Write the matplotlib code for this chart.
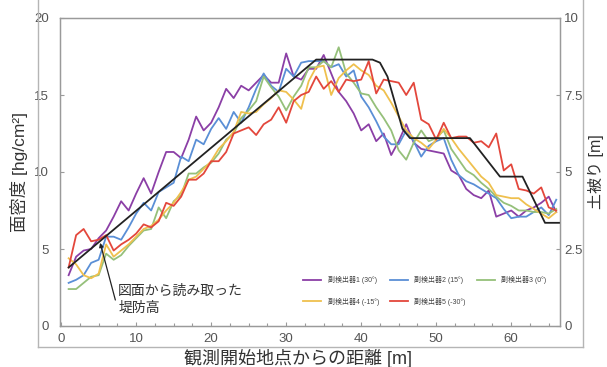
import matplotlib
matplotlib.use("Agg")
import matplotlib.pyplot as plt
from matplotlib.lines import Line2D
import numpy as np

plt.rcParams['font.family'] = ['Liberation Sans', 'Noto Sans CJK JP', 'DejaVu Sans']

# distance from observation start [m]
dist = list(range(1, 67))

det1_30 = [3.3, 4.5, 4.9, 5.0, 5.7, 6.2, 7.1, 8.1, 7.5, 8.6, 9.6, 8.6, 10.0, 11.3, 11.3, 10.9, 12.1,
           13.6, 12.7, 13.2, 14.2, 15.4, 14.8, 15.6, 15.3, 15.8, 16.3, 15.8, 15.8, 17.7, 16.2, 16.0,
           16.7, 16.7, 17.6, 16.4, 15.2, 14.6, 13.8, 12.7, 13.1, 12.0, 12.5, 11.1, 12.0, 13.1, 11.9,
           11.5, 11.4, 11.3, 11.2, 10.1, 9.8, 8.9, 8.5, 8.3, 8.8, 7.1, 7.3, 7.5, 7.1, 7.5, 7.7, 8.0,
           8.4, 7.4]
det2_15 = [2.8, 3.0, 3.3, 4.1, 4.3, 5.8, 5.8, 5.6, 6.4, 7.3, 8.0, 7.5, 8.7, 9.0, 9.3, 11.0, 10.7,
           12.1, 11.8, 12.8, 13.5, 12.8, 13.9, 13.2, 14.2, 15.4, 16.4, 15.6, 15.2, 16.7, 16.2, 17.1,
           17.2, 17.2, 17.2, 16.8, 17.0, 16.2, 16.6, 14.9, 14.2, 13.3, 12.3, 11.8, 11.8, 12.7, 12.0,
           11.0, 11.7, 12.0, 12.2, 10.8, 9.8, 9.4, 9.2, 8.9, 8.6, 8.3, 7.6, 7.0, 7.1, 7.1, 7.4, 7.7,
           7.2, 8.2]
det3_0 = [2.4, 2.4, 2.8, 3.2, 3.3, 4.7, 4.3, 4.6, 5.2, 5.7, 6.2, 6.3, 7.7, 7.0, 8.1, 8.5, 9.9,
          9.9, 10.3, 10.6, 11.2, 12.1, 12.5, 13.5, 14.0, 14.6, 16.2, 15.5, 14.9, 14.0, 14.9, 15.6,
          16.8, 16.8, 17.2, 16.8, 18.1, 16.4, 15.8, 15.1, 15.0, 14.2, 13.5, 12.7, 11.4, 10.8, 11.9,
          12.7, 12.0, 12.2, 12.7, 11.5, 10.8, 10.1, 9.8, 9.3, 8.9, 8.4, 8.0, 7.8, 7.5, 7.5, 7.4, 7.4,
          7.3, 7.6]
det4_m15 = [4.4, 4.0, 3.3, 3.1, 3.4, 5.3, 4.5, 4.9, 5.3, 5.8, 6.3, 6.5, 6.9, 7.5, 8.0, 8.7, 9.5,
            9.7, 10.2, 10.7, 11.5, 12.0, 12.6, 13.9, 13.8, 13.9, 14.4, 14.8, 15.3, 15.2, 14.7, 14.1,
            15.9, 16.8, 16.9, 15.0, 16.1, 16.6, 17.0, 16.6, 16.3, 15.6, 15.3, 14.5, 13.6, 12.7, 12.2,
            11.9, 11.5, 12.1, 12.8, 12.2, 11.5, 10.9, 10.3, 9.7, 9.3, 8.5, 8.4, 8.3, 8.3, 7.9, 7.6,
            7.3, 7.0, 7.4]
det5_m30 = [3.8, 5.9, 6.3, 5.5, 5.6, 5.9, 4.9, 5.3, 5.6, 6.0, 6.6, 6.4, 6.8, 8.0, 7.8, 8.4, 9.5,
            9.5, 9.9, 10.7, 10.7, 11.3, 12.5, 12.7, 12.9, 12.4, 13.1, 13.4, 14.2, 13.2, 14.6, 15.0,
            15.2, 16.2, 15.4, 15.9, 15.2, 16.0, 15.9, 16.0, 17.2, 15.1, 16.0, 15.9, 15.8, 15.0, 15.8,
            13.4, 13.1, 12.1, 13.2, 12.2, 12.3, 12.3, 11.9, 12.0, 11.6, 12.5, 10.1, 10.5, 8.9, 8.8,
            8.6, 9.0, 7.7, 7.5]

# levee height (cover depth, right axis [m])
levee_x = [1, 34, 41.5, 42.5, 43.5, 45.5, 46.5, 54.5, 58.5, 61.5, 64.5, 66.5]
levee_h = [1.9, 8.65, 8.65, 8.55, 8.1, 6.4, 6.1, 6.1, 4.85, 4.85, 3.35, 3.35]

series_labels = ['副検出器1 (30°)', '副検出器2 (15°)', '副検出器3 (0°)',
                 '副検出器4 (-15°)', '副検出器5 (-30°)']
series_values = [det1_30, det2_15, det3_0, det4_m15, det5_m30]
colors = ['#8b3fa6', '#5a8fd6', '#95c07a', '#efc04e', '#e3473c']

x_ticks = [0, 10, 20, 30, 40, 50, 60]
y_ticks = [0, 5, 10, 15, 20]
y2_ticks = [0, 2.5, 5, 7.5, 10]
y2_ticklabels = ['0', '2.5', '5', '7.5', '10']

W, H = 607, 367
fig = plt.figure(figsize=(W / 100, H / 100), dpi=100)
ax = fig.add_axes([60 / W, 1 - 326 / H, 500 / W, 308 / H])

handles = []
for vals, c, lab in zip(series_values, colors, series_labels):
    h, = ax.plot(dist, vals, color=c, lw=1.3, label=lab)
    handles.append(h)

ax2 = ax.twinx()
ax2.plot(levee_x, levee_h, color='#222222', lw=1.3)
ax2.set_ylim(0, 10)
ax2.set_yticks(y2_ticks)
ax2.set_yticklabels(y2_ticklabels)

ax.set_xlim(-0.15, 66.5)
ax.set_ylim(0, 20)
ax.set_xticks(x_ticks)
ax.set_yticks(y_ticks)
ax.set_xticks(np.arange(0, 66.5, 2.5), minor=True)

tick_col = '#555555'
spine_col = '#9a9a9a'
for a in (ax, ax2):
    for s in a.spines.values():
        s.set_color(spine_col)
        s.set_linewidth(0.9)
ax.tick_params(axis='both', which='both', direction='in', color=spine_col,
               labelcolor=tick_col, labelsize=9.5, length=3, width=0.8)
ax.tick_params(axis='x', which='minor', length=2.5)
ax.tick_params(axis='x', pad=5)
ax.tick_params(axis='y', pad=8)
ax2.tick_params(axis='y', direction='in', color=spine_col, labelcolor=tick_col,
                labelsize=9.5, length=3, width=0.8, pad=3)

ax.set_ylabel('面密度 [hg/cm²]', fontsize=12.5, color='#333333', labelpad=4)
ax2.set_ylabel('土被り [m]', fontsize=11.5, color='#333333', labelpad=4)
ax.set_xlabel('観測開始地点からの距離 [m]', fontsize=13, color='#333333', labelpad=0)
ax.xaxis.set_label_coords(0.475, -0.075)

# column-major fill -> reorder so rows read 1,2,3 / 4,5
order = [0, 3, 1, 4, 2]
leg = ax.legend([handles[i] for i in order], [series_labels[i] for i in order],
                loc='lower right', bbox_to_anchor=(0.98, 0.055), ncol=3, frameon=False,
                fontsize=5, handlelength=2.6, columnspacing=1.6, handletextpad=0.9,
                labelspacing=1.9, borderpad=0)
for t in leg.get_texts():
    t.set_color('#444444')

ax.annotate('図面から読み取った\n堤防高', xy=(5.2, 5.4), xytext=(7.6, 0.7),
            fontsize=10, color='#333333', ha='left', va='bottom', linespacing=1.35,
            arrowprops=dict(arrowstyle='-|>', color='#222222', lw=0.9,
                            shrinkA=0, shrinkB=0, mutation_scale=6,
                            relpos=(0.0, 0.15)))

# outer frame of the figure panel
frame_col = '#b5b5b5'
fig.add_artist(Line2D([38 / W, 38 / W], [1 - 347 / H, 1.0], transform=fig.transFigure,
                      color=frame_col, lw=1.0))
fig.add_artist(Line2D([583 / W, 583 / W], [1 - 347 / H, 1.0], transform=fig.transFigure,
                      color=frame_col, lw=1.0))
fig.add_artist(Line2D([38 / W, 583 / W], [1 - 347 / H, 1 - 347 / H], transform=fig.transFigure,
                      color=frame_col, lw=1.0))

fig.savefig('out.png', dpi=100)
